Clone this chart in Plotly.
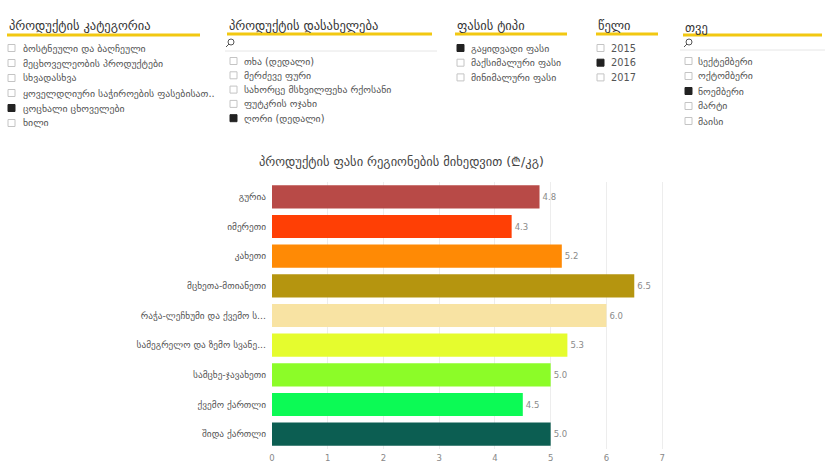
import plotly.graph_objects as go

# ---------------- data ----------------
regions = [
    "გურია",
    "იმერეთი",
    "კახეთი",
    "მცხეთა-მთიანეთი",
    "რაჭა-ლეჩხუმი და ქვემო ს...",
    "სამეგრელო და ზემო სვანე...",
    "სამცხე-ჯავახეთი",
    "ქვემო ქართლი",
    "შიდა ქართლი",
]
prices = [4.8, 4.3, 5.2, 6.5, 6.0, 5.3, 5.0, 4.5, 5.0]
bar_colors = ["#B84A47", "#FF3F05", "#FF8A05", "#B5950F", "#F8E3A3",
              "#E5FC2E", "#8CFC28", "#0CFA55", "#0C5E52"]
x_ticks = [0, 1, 2, 3, 4, 5, 6, 7]

chart_title = "პროდუქტის ფასი რეგიონების მიხედვით (₾/კგ)"

cat_title = "პროდუქტის კატეგორია"
cat_items = ["ბოსტნეული და ბაღჩეული", "მეცხოველეობის პროდუქტები", "სხვადასხვა",
             "ყოველდღიური საჭიროების ფასებისათ..", "ცოცხალი ცხოველები", "ხილი"]
cat_checked = [False, False, False, False, True, False]

name_title = "პროდუქტის დასახელება"
name_items = ["თხა (დედალი)", "მერძევე ფური", "სახორცე მსხვილფეხა რქოსანი",
              "ფუტკრის ოჯახი", "ღორი (დედალი)"]
name_checked = [False, False, False, False, True]

type_title = "ფასის ტიპი"
type_items = ["გაყიდვადი ფასი", "მაქსიმალური ფასი", "მინიმალური ფასი"]
type_checked = [True, False, False]

year_title = "წელი"
year_items = ["2015", "2016", "2017"]
year_checked = [False, True, False]

month_title = "თვე"
month_items = ["სექტემბერი", "ოქტომბერი", "ნოემბერი", "მარტი", "მაისი"]
month_checked = [False, False, True, False, False]

# ---------------- layout geometry ----------------
W, H = 825, 465
ML, MR, MT, MB = 272, 135, 182, 16
PW, PH = W - ML - MR, H - MT - MB
FONT = "DejaVu Sans"


def px(x):
    return (x - ML) / PW


def py(y):
    return 1 - (y - MT) / PH


fig = go.Figure(go.Bar(
    x=prices, y=regions, orientation="h",
    marker=dict(color=bar_colors, line=dict(width=0)),
    text=[f"{v:.1f}" for v in prices], textposition="outside",
    textfont=dict(family=FONT, size=8.5, color="#8A8A8A"),
    cliponaxis=False, hoverinfo="x+y",
))

annotations = []
shapes = []


def slicer(x0, x1, title_y, line_y, items, checked, item_y0, step, box_x, text_x,
           title, search=None):
    annotations.append(dict(x=px(x0 - 1), y=py(title_y), xref="paper", yref="paper",
                            text=title, showarrow=False, xanchor="left", yanchor="middle",
                            font=dict(family=FONT, size=12.5, color="#333333")))
    shapes.append(dict(type="line", xref="paper", yref="paper",
                       x0=px(x0 - 1), x1=px(x1), y0=py(line_y), y1=py(line_y),
                       line=dict(color="#F2C811", width=3)))
    if search is not None:
        sx, sy, lx0, lx1, ly = search
        shapes.append(dict(type="circle", xref="paper", yref="paper",
                           x0=px(sx - 3), x1=px(sx + 3), y0=py(sy - 3), y1=py(sy + 3),
                           line=dict(color="#555555", width=1)))
        shapes.append(dict(type="line", xref="paper", yref="paper",
                           x0=px(sx - 2), x1=px(sx - 5), y0=py(sy + 2), y1=py(sy + 5),
                           line=dict(color="#555555", width=1)))
        shapes.append(dict(type="line", xref="paper", yref="paper",
                           x0=px(lx0), x1=px(lx1), y0=py(ly), y1=py(ly),
                           line=dict(color="#E6E6E6", width=1)))
    for i, (it, ck) in enumerate(zip(items, checked)):
        yy = item_y0 + i * step
        shapes.append(dict(type="rect", xref="paper", yref="paper",
                           x0=px(box_x), x1=px(box_x + 7), y0=py(yy - 3.5), y1=py(yy + 3.5),
                           line=dict(color="#222222" if ck else "#C4C4C4", width=1),
                           fillcolor="#222222" if ck else "#FFFFFF"))
        annotations.append(dict(x=px(text_x - 1), y=py(yy), xref="paper", yref="paper",
                                text=it, showarrow=False, xanchor="left", yanchor="middle",
                                font=dict(family=FONT, size=9.8, color="#555555")))


slicer(8, 200, 25, 35, cat_items, cat_checked, 48, 15, 8, 22, cat_title)
slicer(228, 432, 25, 34, name_items, name_checked, 61, 14.3, 230, 243, name_title,
       search=(231, 42, 225, 437, 51))
slicer(456, 567, 25, 34, type_items, type_checked, 48, 14.7, 457, 470, type_title)
slicer(597, 658, 25, 34, year_items, year_checked, 48, 14.7, 597, 610, year_title)
slicer(684, 822, 27, 35, month_items, month_checked, 61, 15, 685, 697, month_title,
       search=(689, 42, 680, 825, 50))

annotations.append(dict(x=px(401), y=py(161), xref="paper", yref="paper",
                        text=chart_title, showarrow=False, xanchor="center", yanchor="middle",
                        font=dict(family=FONT, size=12.5, color="#444444")))

fig.update_layout(
    width=W, height=H,
    margin=dict(l=ML, r=MR, t=MT, b=MB, pad=0, autoexpand=False),
    paper_bgcolor="white", plot_bgcolor="white",
    showlegend=False,
    bargap=0.22,
    font=dict(family=FONT, color="#666666"),
    xaxis=dict(range=[0, 7.5], tickvals=x_ticks, showgrid=True, gridcolor="#EDEDED",
               gridwidth=1, zeroline=False, showline=False, ticks="",
               ticklabelstandoff=2, automargin=False,
               tickfont=dict(family=FONT, size=8.5, color="#888888")),
    yaxis=dict(autorange="reversed", showgrid=False, zeroline=False, showline=False,
               ticks="", ticklabelstandoff=5, automargin=False,
               tickfont=dict(family=FONT, size=9.3, color="#555555")),
    annotations=annotations,
    shapes=shapes,
)

fig.write_html(
    "out.html",
    config={"displayModeBar": False},
    post_script="document.body.style.margin='0';document.body.style.overflow='hidden';",
)
